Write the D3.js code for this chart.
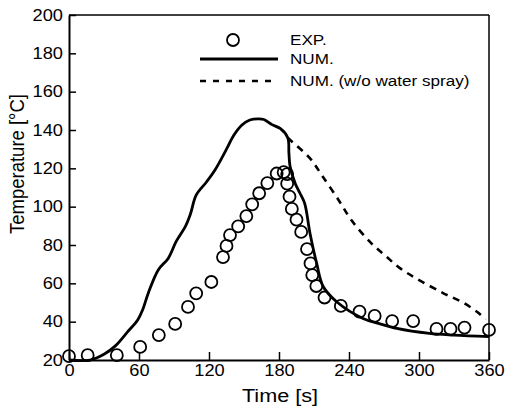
<!DOCTYPE html>
<html>
<head>
<meta charset="utf-8">
<script src="https://cdn.jsdelivr.net/npm/d3@7"></script>
<style>
  html, body { margin: 0; padding: 0; background: #fff; }
  svg { display: block; font-family: "Liberation Sans", Arial, sans-serif; }
</style>
</head>
<body>
<svg id="chart" width="507" height="407"></svg>
<script>
// ---- data ----
const expTime = [0, 16, 41, 61, 77, 91, 102, 109, 122, 132, 135, 138, 145, 152, 157, 163, 170, 178, 184, 187, 187, 189, 191, 195, 199, 204, 207, 208.5, 212, 219, 233, 249, 262, 277, 295, 315, 327, 339, 360];
const expTemp = [22, 22.5, 22.5, 26.8, 33, 38.8, 47.7, 54.8, 60.7, 73.7, 79.5, 85.2, 89.7, 95.1, 101.2, 107, 112.3, 117.3, 118, 117, 112, 105.2, 98.8, 93.2, 86.8, 77.9, 70.4, 64.3, 58.6, 52.6, 48.2, 45.2, 43, 40.3, 40.3, 36.2, 36.2, 36.9, 35.7];

const numTime = [0, 18, 30, 40, 50, 59, 63, 68, 76.5, 85, 92, 100, 104, 109, 118, 125, 135, 141, 148, 155, 162, 167, 174, 181, 187.5, 188.5, 189.5, 194, 198, 202, 206.6, 212.3, 218, 229.4, 252, 266, 281, 309, 330, 360];
const numTemp = [20, 20, 23, 27.5, 34.5, 41, 46, 55, 67, 73, 82, 90, 96, 106, 113, 119, 130, 137, 142.5, 145.2, 145.8, 145.5, 142.8, 140.8, 136, 128, 121, 112, 107, 101.7, 86, 70.4, 58.2, 50.4, 41.7, 39, 36.5, 33.9, 33, 32.2];

const noSprayTime = [187.5, 191, 206.6, 216.6, 232, 242, 259, 272, 283, 297, 321, 337, 350, 357];
const noSprayTemp = [136, 134, 125.2, 116.5, 102.6, 93, 81, 74, 68.2, 62.8, 54.8, 50.2, 45, 41.2];

const xTicks = [0, 60, 120, 180, 240, 300, 360];
const yTicks = [20, 40, 60, 80, 100, 120, 140, 160, 180, 200];
const legendLabels = ["EXP.", "NUM.", "NUM. (w/o water spray)"];

// ---- layout ----
const svg = d3.select("#chart");
const L = 69, R = 489, T = 15, B = 360;
const SX = 1.14; // horizontal stretch of text to match reference

const x = d3.scaleLinear().domain([0, 360]).range([L, R]);
const y = d3.scaleLinear().domain([20, 200]).range([B, T]);

// border (top, right)
svg.append("line").attr("x1", L).attr("x2", R).attr("y1", T).attr("y2", T)
  .attr("stroke", "#000").attr("stroke-width", 1.5);
svg.append("line").attr("x1", R).attr("x2", R).attr("y1", T).attr("y2", B)
  .attr("stroke", "#000").attr("stroke-width", 1.5);

// axes
const xAxis = svg.append("g").attr("transform", `translate(0,${B})`)
  .call(d3.axisBottom(x).tickValues(xTicks).tickSizeInner(-8).tickSizeOuter(0).tickPadding(5));
const yAxis = svg.append("g").attr("transform", `translate(${L},0)`)
  .call(d3.axisLeft(y).tickValues(yTicks).tickSizeInner(-7).tickSizeOuter(0).tickPadding(6));

[xAxis, yAxis].forEach(g => {
  g.select(".domain").attr("stroke", "#000").attr("stroke-width", 2);
  g.selectAll(".tick line").attr("stroke", "#000").attr("stroke-width", 1.5);
  g.selectAll(".tick text")
    .attr("fill", "#000")
    .style("font-size", "16px")
    .style("font-family", "'Liberation Sans', Arial, sans-serif");
});
xAxis.selectAll(".tick text").attr("transform", `scale(${SX},1)`);
yAxis.selectAll(".tick text")
  .attr("x", -6 / SX)
  .attr("transform", `scale(${SX},1)`);

// axis titles
svg.append("text")
  .attr("transform", `translate(280,402) scale(${SX},1)`)
  .attr("text-anchor", "middle")
  .style("font-size", "19px")
  .text("Time [s]");
svg.append("text")
  .attr("transform", `translate(24,164) rotate(-90) scale(1,1.08)`)
  .attr("text-anchor", "middle")
  .style("font-size", "18.5px")
  .text("Temperature [°C]");

// lines
const numData = numTime.map((t, i) => [t, numTemp[i]]);
const noSprayData = noSprayTime.map((t, i) => [t, noSprayTemp[i]]);
const line = d3.line().x(d => x(d[0])).y(d => y(d[1])).curve(d3.curveCatmullRom.alpha(0.5));

svg.append("path").datum(noSprayData).attr("d", line)
  .attr("fill", "none").attr("stroke", "#000").attr("stroke-width", 2.6)
  .attr("stroke-dasharray", "7,6");
svg.append("path").datum(numData).attr("d", line)
  .attr("fill", "none").attr("stroke", "#000").attr("stroke-width", 2.8)
  .attr("stroke-linejoin", "round");

// experimental circles
svg.append("g").selectAll("circle")
  .data(expTime.map((t, i) => [t, expTemp[i]]))
  .join("circle")
  .attr("cx", d => x(d[0]))
  .attr("cy", d => y(d[1]))
  .attr("r", 6)
  .attr("fill", "none")
  .attr("stroke", "#000")
  .attr("stroke-width", 1.8);

// legend
const lg = svg.append("g");
lg.append("circle").attr("cx", 233).attr("cy", 40).attr("r", 6)
  .attr("fill", "none").attr("stroke", "#000").attr("stroke-width", 1.8);
lg.append("line").attr("x1", 200).attr("x2", 278).attr("y1", 59).attr("y2", 59)
  .attr("stroke", "#000").attr("stroke-width", 2.8);
lg.append("line").attr("x1", 200).attr("x2", 278).attr("y1", 81).attr("y2", 81)
  .attr("stroke", "#000").attr("stroke-width", 2.6).attr("stroke-dasharray", "6,7");
const ly = [40, 59, 81];
legendLabels.forEach((s, i) => {
  lg.append("text")
    .attr("transform", `translate(290,${ly[i]}) scale(${SX},1)`)
    .attr("dy", "0.36em")
    .style("font-size", "15px")
    .text(s);
});
</script>
</body>
</html>
